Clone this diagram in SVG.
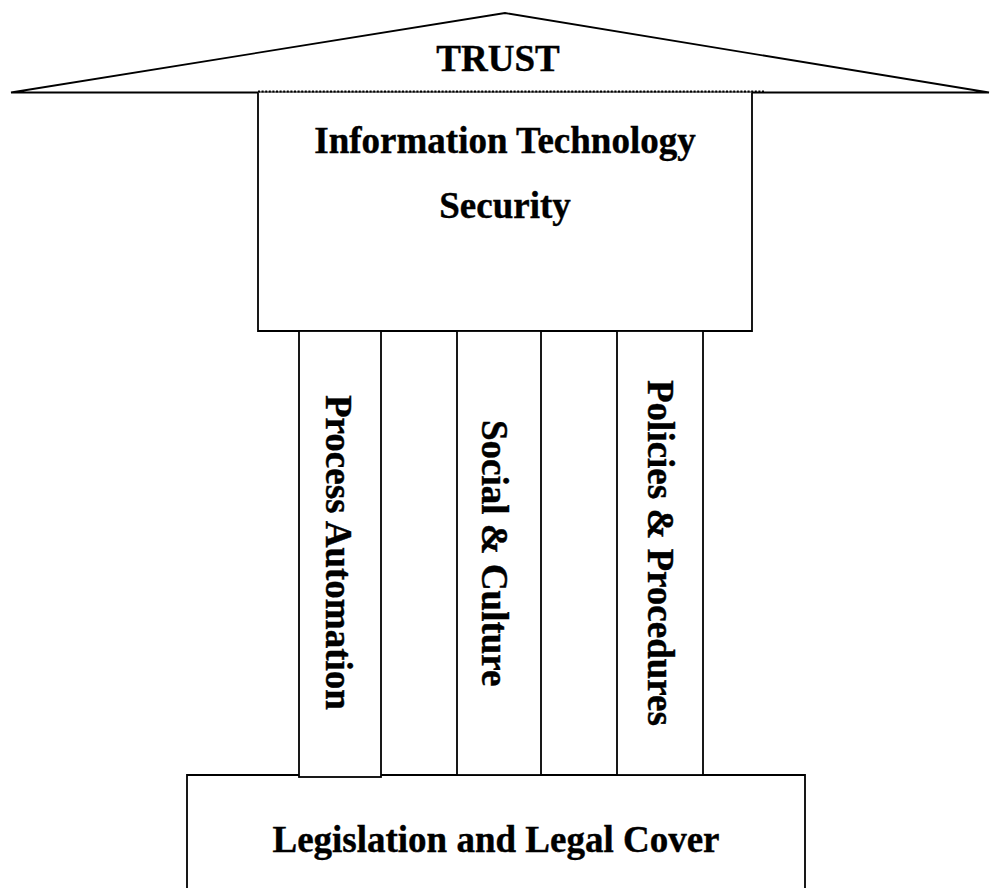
<svg xmlns="http://www.w3.org/2000/svg" width="990" height="888" viewBox="0 0 990 888">
<style>
.bx{fill:#fff;stroke:#000;stroke-width:1.8}
.t{font-family:"Liberation Serif","Times New Roman",serif;font-weight:bold;font-size:37px;fill:#000;stroke:#000;stroke-width:0.4}
</style>
<rect width="990" height="888" fill="#fff"/>
<g id="roof">
<polygon class="bx" points="11,92.5 505,13 989,92.5"/>
<text class="t" x="498" y="71" text-anchor="middle">TRUST</text>
</g>
<g id="it-security">
<path class="bx" d="M258,92.5 V331 H752 V92.5"/>
<line x1="258" y1="91.5" x2="764" y2="91.5" stroke="#000" stroke-width="1.8" stroke-dasharray="2,1.6"/>
<text class="t" x="505" y="153" text-anchor="middle">Information Technology</text>
<text class="t" x="505" y="218" text-anchor="middle">Security</text>
</g>
<g id="legislation">
<path class="bx" d="M187,889 V775 H805 V889"/>
<text class="t" x="496" y="852" text-anchor="middle">Legislation and Legal Cover</text>
</g>
<g id="pillar-process">
<rect class="bx" x="299" y="331" width="82" height="446"/>
<text class="t" transform="translate(326,395) rotate(90)">Process Automation</text>
</g>
<g id="pillar-social">
<rect class="bx" x="457" y="331" width="84" height="444"/>
<text class="t" transform="translate(482,420) rotate(90)">Social &amp; Culture</text>
</g>
<g id="pillar-policies">
<rect class="bx" x="617" y="331" width="86" height="444"/>
<text class="t" transform="translate(648,380) rotate(90)">Policies &amp; Procedures</text>
</g>
</svg>
